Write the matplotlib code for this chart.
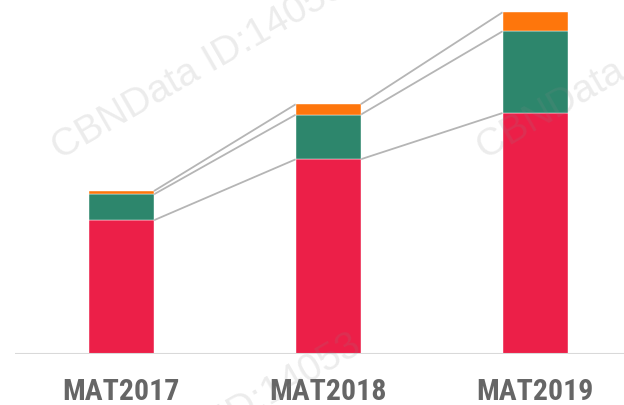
import matplotlib
matplotlib.use("Agg")
import matplotlib.pyplot as plt
import numpy as np

# datos (unidades relativas)
categorias = ["MAT2017", "MAT2018", "MAT2019"]
rojo = [133.7, 194.7, 241.0]
verde = [25.9, 44.6, 81.7]
naranja = [3.3, 10.4, 19.0]

colores = ["#ec1f48", "#2d866c", "#fe760c"]
ancho = 0.314

fig = plt.figure(figsize=(6.24, 4.05), dpi=100)
ax = fig.add_axes([15 / 624, 51 / 405, 609 / 624, 354 / 405])

x = np.arange(len(categorias))
capas = [rojo, verde, naranja]
base = np.zeros(len(categorias))
niveles = []
for serie, col in zip(capas, colores):
    ax.bar(x, serie, width=ancho, bottom=base, color=col,
           edgecolor="white", linewidth=0.3, zorder=3)
    base = base + np.array(serie)
    niveles.append(base.copy())

# lineas de union entre barras
for nivel in niveles:
    for i in range(len(x) - 1):
        ax.plot([x[i] + ancho / 2, x[i + 1] - ancho / 2], [nivel[i], nivel[i + 1]],
                color="#b5b5b5", lw=1.3, zorder=2, solid_capstyle="butt")

ax.axhline(0, color="#d9d9d9", lw=1.5, zorder=4)

for xi, cat in zip(x, categorias):
    ax.text(xi, -46, cat, ha="center", va="baseline", fontsize=21.5,
            fontweight="bold", color="#666666",
            family=["Roboto Condensed", "DejaVu Sans"], clip_on=False)

ax.set_xlim(-0.514, 2.43)
ax.set_ylim(0, 354)
ax.set_axis_off()

# marca de agua
for px, py in [(60, 160), (485, 160), (75, 518)]:
    fig.text(px / 624, 1 - py / 405, "CBNData ID:14053", rotation=30,
             rotation_mode="anchor", ha="left", va="baseline", fontsize=28,
             family="Liberation Sans", color="#888888", alpha=0.16, zorder=10)

fig.savefig("out.png", dpi=100)
